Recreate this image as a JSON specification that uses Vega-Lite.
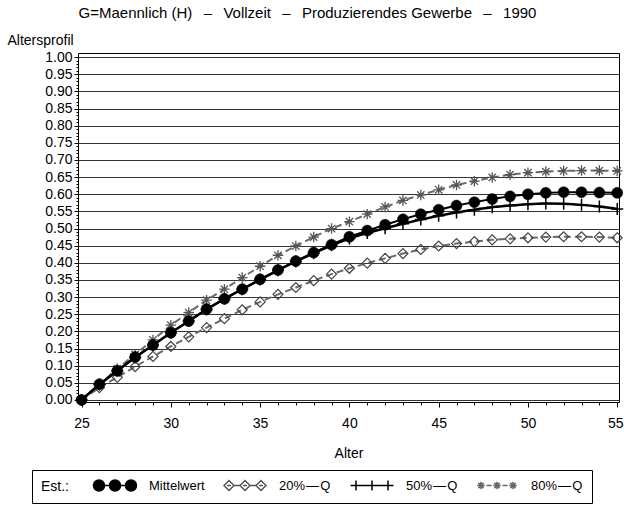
{
  "$schema": "https://vega.github.io/schema/vega-lite/v6.json",
  "autosize": {"type": "none"},
  "width": 541,
  "height": 349,
  "padding": {"left": 78, "top": 53, "right": 5, "bottom": 103},
  "background": "white",
  "title": {
    "text": "G=Maennlich (H)\u00a0\u00a0\u2009\u2013\u2009\u00a0\u00a0Vollzeit\u00a0\u00a0\u2009\u2013\u2009\u00a0\u00a0Produzierendes Gewerbe\u00a0\u00a0\u2009\u2013\u2009\u00a0\u00a01990",
    "anchor": "middle",
    "dx": -41,
    "offset": 12,
    "fontSize": 15,
    "fontWeight": "normal",
    "color": "black"
  },
  "data": {
    "values": [
      {"alter": 25, "mw": 0.000, "q20": 0.000, "q50": 0.000, "q80": 0.000},
      {"alter": 26, "mw": 0.046, "q20": 0.036, "q50": 0.045, "q80": 0.046},
      {"alter": 27, "mw": 0.085, "q20": 0.066, "q50": 0.085, "q80": 0.091},
      {"alter": 28, "mw": 0.125, "q20": 0.097, "q50": 0.124, "q80": 0.133},
      {"alter": 29, "mw": 0.160, "q20": 0.127, "q50": 0.160, "q80": 0.175},
      {"alter": 30, "mw": 0.196, "q20": 0.156, "q50": 0.196, "q80": 0.218},
      {"alter": 31, "mw": 0.230, "q20": 0.184, "q50": 0.230, "q80": 0.255},
      {"alter": 32, "mw": 0.265, "q20": 0.211, "q50": 0.264, "q80": 0.291},
      {"alter": 33, "mw": 0.295, "q20": 0.237, "q50": 0.295, "q80": 0.323},
      {"alter": 34, "mw": 0.323, "q20": 0.263, "q50": 0.323, "q80": 0.357},
      {"alter": 35, "mw": 0.352, "q20": 0.286, "q50": 0.351, "q80": 0.390},
      {"alter": 36, "mw": 0.379, "q20": 0.308, "q50": 0.378, "q80": 0.422},
      {"alter": 37, "mw": 0.405, "q20": 0.328, "q50": 0.404, "q80": 0.449},
      {"alter": 38, "mw": 0.430, "q20": 0.348, "q50": 0.428, "q80": 0.475},
      {"alter": 39, "mw": 0.453, "q20": 0.367, "q50": 0.451, "q80": 0.500},
      {"alter": 40, "mw": 0.476, "q20": 0.384, "q50": 0.471, "q80": 0.520},
      {"alter": 41, "mw": 0.494, "q20": 0.399, "q50": 0.487, "q80": 0.542},
      {"alter": 42, "mw": 0.511, "q20": 0.413, "q50": 0.501, "q80": 0.563},
      {"alter": 43, "mw": 0.527, "q20": 0.427, "q50": 0.514, "q80": 0.582},
      {"alter": 44, "mw": 0.542, "q20": 0.439, "q50": 0.526, "q80": 0.598},
      {"alter": 45, "mw": 0.555, "q20": 0.449, "q50": 0.537, "q80": 0.613},
      {"alter": 46, "mw": 0.567, "q20": 0.456, "q50": 0.547, "q80": 0.627},
      {"alter": 47, "mw": 0.577, "q20": 0.462, "q50": 0.555, "q80": 0.638},
      {"alter": 48, "mw": 0.586, "q20": 0.467, "q50": 0.562, "q80": 0.649},
      {"alter": 49, "mw": 0.594, "q20": 0.470, "q50": 0.567, "q80": 0.657},
      {"alter": 50, "mw": 0.600, "q20": 0.473, "q50": 0.571, "q80": 0.663},
      {"alter": 51, "mw": 0.604, "q20": 0.475, "q50": 0.573, "q80": 0.666},
      {"alter": 52, "mw": 0.606, "q20": 0.476, "q50": 0.572, "q80": 0.668},
      {"alter": 53, "mw": 0.606, "q20": 0.476, "q50": 0.569, "q80": 0.669},
      {"alter": 54, "mw": 0.605, "q20": 0.475, "q50": 0.564, "q80": 0.669},
      {"alter": 55, "mw": 0.604, "q20": 0.473, "q50": 0.557, "q80": 0.668}
    ]
  },
  "transform": [{"fold": ["mw", "q20", "q50", "q80"], "as": ["serie", "wert"]}],
  "encoding": {
    "x": {
      "field": "alter",
      "type": "quantitative",
      "title": "Alter",
      "scale": {"domain": [24.8, 55.1], "nice": false, "zero": false},
      "axis": {
        "values": [25,26,27,28,29,30,31,32,33,34,35,36,37,38,39,40,41,42,43,44,45,46,47,48,49,50,51,52,53,54,55],
        "labelExpr": "datum.value % 5 === 0 ? format(datum.value, 'd') : ''",
        "tickSize": {"condition": {"test": "datum.value % 5 === 0", "value": 5}, "value": 3},
        "labelOffset": {"condition": {"test": "datum.value === 55", "value": -2}, "value": 0},
        "labelOverlap": false,
        "labelFlush": false,
        "labelPadding": 9,
        "titlePadding": 16,
        "grid": false
      }
    },
    "y": {
      "field": "wert",
      "type": "quantitative",
      "title": "Altersprofil",
      "scale": {"domain": [-0.006, 1.012], "nice": false, "zero": false},
      "axis": {
        "values": [0,0.01,0.02,0.03,0.04,0.05,0.06,0.07,0.08,0.09,0.1,0.11,0.12,0.13,0.14,0.15,0.16,0.17,0.18,0.19,0.2,0.21,0.22,0.23,0.24,0.25,0.26,0.27,0.28,0.29,0.3,0.31,0.32,0.33,0.34,0.35,0.36,0.37,0.38,0.39,0.4,0.41,0.42,0.43,0.44,0.45,0.46,0.47,0.48,0.49,0.5,0.51,0.52,0.53,0.54,0.55,0.56,0.57,0.58,0.59,0.6,0.61,0.62,0.63,0.64,0.65,0.66,0.67,0.68,0.69,0.7,0.71,0.72,0.73,0.74,0.75,0.76,0.77,0.78,0.79,0.8,0.81,0.82,0.83,0.84,0.85,0.86,0.87,0.88,0.89,0.9,0.91,0.92,0.93,0.94,0.95,0.96,0.97,0.98,0.99,1],
        "labelExpr": "abs(datum.value*20 - round(datum.value*20)) < 0.001 ? format(datum.value, '.2f') : ''",
        "tickSize": {"condition": {"test": "abs(datum.value*20 - round(datum.value*20)) < 0.001", "value": 4}, "value": 2},
        "grid": true,
        "gridColor": "#333333",
        "gridWidth": 1,
        "gridOpacity": {"condition": {"test": "abs(datum.value*20 - round(datum.value*20)) < 0.001", "value": 1}, "value": 0},
        "labelOverlap": false,
        "labelFlush": false,
        "labelPadding": 2,
        "titleAngle": 0,
        "titleAlign": "left",
        "titleBaseline": "middle",
        "titleX": -71,
        "titleY": -13
      }
    }
  },
  "layer": [
    {
      "transform": [{"filter": "datum.serie === 'q20'"}],
      "mark": {"type": "line", "stroke": "#6a6a6a", "strokeWidth": 2, "strokeDash": [7, 4]}
    },
    {
      "transform": [{"filter": "datum.serie === 'q80'"}],
      "mark": {"type": "line", "stroke": "#6a6a6a", "strokeWidth": 2, "strokeDash": [7, 4]}
    },
    {
      "transform": [{"filter": "datum.serie === 'q20'"}],
      "mark": {"type": "point", "shape": "diamond", "size": 100, "filled": false, "fill": "white", "fillOpacity": 0, "stroke": "#444444", "strokeWidth": 1.2, "opacity": 1}
    },
    {
      "transform": [{"filter": "datum.serie === 'q80'"}],
      "mark": {"type": "point", "shape": "M-1,0L1,0M0,-1L0,1M-0.7,-0.7L0.7,0.7M-0.7,0.7L0.7,-0.7", "size": 110, "filled": false, "stroke": "#555555", "strokeWidth": 1.3, "opacity": 1}
    },
    {
      "transform": [{"filter": "datum.serie === 'q50'"}],
      "mark": {"type": "line", "stroke": "black", "strokeWidth": 2.5, "interpolate": "monotone"}
    },
    {
      "transform": [{"filter": "datum.serie === 'q50'"}],
      "mark": {"type": "point", "shape": "M-1,0L1,0M0,-1L0,1", "size": 144, "filled": false, "stroke": "black", "strokeWidth": 1.5, "opacity": 1}
    },
    {
      "transform": [{"filter": "datum.serie === 'mw'"}],
      "mark": {"type": "line", "stroke": "black", "strokeWidth": 2}
    },
    {
      "transform": [{"filter": "datum.serie === 'mw'"}],
      "mark": {"type": "point", "shape": "circle", "size": 121, "filled": true, "fill": "black", "stroke": "black", "strokeWidth": 0.5, "opacity": 1}
    },
    {
      "transform": [{"filter": "false"}],
      "mark": {"type": "point", "filled": true, "opacity": 1, "strokeWidth": 1.5},
      "encoding": {
        "shape": {
          "field": "serie", "type": "nominal", "title": "Est.:",
          "scale": {
            "domain": ["mw", "q20", "q50", "q80"],
            "range": [
              "M-1,0A1.1,1.1 0 1,0 1.2,0A1.1,1.1 0 1,0 -1,0Z M2.2,0A1.1,1.1 0 1,0 4.4,0A1.1,1.1 0 1,0 2.2,0Z M5.4,0A1.1,1.1 0 1,0 7.6,0A1.1,1.1 0 1,0 5.4,0Z M1.2,0L2.2,0M4.4,0L5.4,0",
              "M-0.9,0L0.1,-1L1.1,0L0.1,1Z M2.3,0L3.3,-1L4.3,0L3.3,1Z M5.5,0L6.5,-1L7.5,0L6.5,1Z M1.1,0L2.3,0M4.3,0L5.5,0M-0.3,0L0.5,0M2.9,0L3.7,0M6.1,0L6.9,0",
              "M-1,0L7.6,0M0.1,-1L0.1,1M3.3,-1L3.3,1M6.5,-1L6.5,1",
              "M-0.65,0L0.85,0M0.1,-0.75L0.1,0.75M-0.43,-0.53L0.63,0.53M-0.43,0.53L0.63,-0.53M2.55,0L4.05,0M3.3,-0.75L3.3,0.75M2.77,-0.53L3.83,0.53M2.77,0.53L3.83,-0.53M5.75,0L7.25,0M6.5,-0.75L6.5,0.75M5.97,-0.53L7.03,0.53M5.97,0.53L7.03,-0.53M1.2,0L2.2,0M4.4,0L5.4,0"
            ]
          },
          "legend": {
            "labelExpr": "datum.label == 'mw' ? 'Mittelwert' : datum.label == 'q20' ? '20%\u200a\u2014\u200aQ' : datum.label == 'q50' ? '50%\u200a\u2014\u200aQ' : '80%\u200a\u2014\u200aQ'"
          }
        },
        "fill": {
          "field": "serie", "type": "nominal", "title": "Est.:",
          "scale": {"domain": ["mw", "q20", "q50", "q80"], "range": ["black", "transparent", "transparent", "transparent"]},
          "legend": {
            "labelExpr": "datum.label == 'mw' ? 'Mittelwert' : datum.label == 'q20' ? '20%\u200a\u2014\u200aQ' : datum.label == 'q50' ? '50%\u200a\u2014\u200aQ' : '80%\u200a\u2014\u200aQ'"
          }
        },
        "stroke": {
          "field": "serie", "type": "nominal", "title": "Est.:",
          "scale": {"domain": ["mw", "q20", "q50", "q80"], "range": ["black", "#555555", "black", "#666666"]},
          "legend": {
            "labelExpr": "datum.label == 'mw' ? 'Mittelwert' : datum.label == 'q20' ? '20%\u200a\u2014\u200aQ' : datum.label == 'q50' ? '50%\u200a\u2014\u200aQ' : '80%\u200a\u2014\u200aQ'"
          }
        }
      }
    }
  ],
  "config": {
    "font": "Liberation Sans",
    "view": {"stroke": "black", "strokeWidth": 1},
    "axis": {
      "labelFontSize": 14,
      "titleFontSize": 14,
      "titleFontWeight": "normal",
      "labelColor": "black",
      "titleColor": "black",
      "tickColor": "black",
      "domain": false
    },
    "legend": {
      "orient": "none",
      "legendX": -46,
      "legendY": 417,
      "direction": "horizontal",
      "titleOrient": "left",
      "titleFontSize": 14,
      "titleFontWeight": "normal",
      "titleColor": "black",
      "titlePadding": 22,
      "labelFontSize": 13,
      "labelColor": "black",
      "labelOffset": 44,
      "symbolSize": 100,
      "symbolStrokeWidth": 1.5,
      "columnPadding": 16,
      "gridAlign": "none",
      "strokeColor": "black",
      "padding": 9
    }
  }
}
